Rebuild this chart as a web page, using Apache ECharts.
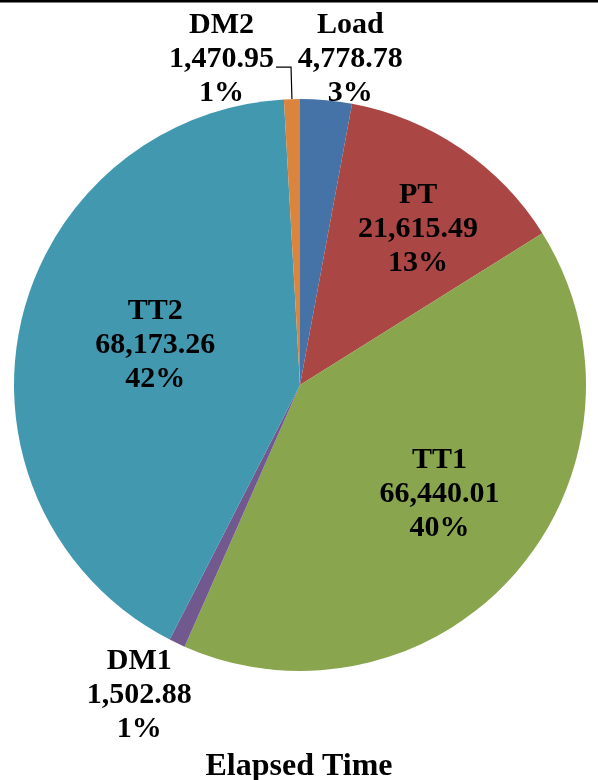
<!DOCTYPE html>
<html>
<head>
<meta charset="utf-8">
<script src="https://cdn.jsdelivr.net/npm/echarts@6/dist/echarts.min.js"></script>
<style>
  html, body { margin: 0; padding: 0; background: #ffffff; }
  #chart { width: 598px; height: 780px; }
</style>
</head>
<body>
<div id="chart"></div>
<script>
// ---- data ----
var categories = ['Load', 'PT', 'TT1', 'DM1', 'TT2', 'DM2'];
var values = [4778.78, 21615.49, 66440.01, 1502.88, 68173.26, 1470.95];
var chartTitle = 'Elapsed Time';

// ---- styles ----
var colors = ['#4572A7', '#AA4643', '#89A54E', '#71588F', '#4198AF', '#DB843D'];
// label nudges from the default inside position (style only)
var labelNudges = [[37, -180], [36, -35], [29, 14], [-98, 178], [-2, -10], null];

var chart = echarts.init(document.getElementById('chart'), null, { renderer: 'canvas' });

function fmtNum(v) {
  return v.toLocaleString('en-US', { minimumFractionDigits: 2, maximumFractionDigits: 2 });
}

// whole-number percentages that sum to 100 (largest remainder)
function wholePercents(vals) {
  var total = vals.reduce(function (a, b) { return a + b; }, 0);
  var raw = vals.map(function (v) { return v / total * 100; });
  var fl = raw.map(Math.floor);
  var left = 100 - fl.reduce(function (a, b) { return a + b; }, 0);
  var order = raw.map(function (r, i) { return i; })
    .sort(function (a, b) { return (raw[b] - fl[b]) - (raw[a] - fl[a]); });
  for (var k = 0; k < left; k++) fl[order[k]] += 1;
  return fl;
}
var pcts = wholePercents(values);

var pieData = categories.map(function (c, i) {
  var item = { name: c, value: values[i], itemStyle: { color: colors[i] } };
  if (c === 'DM2') {
    item.label = { position: 'outside', distanceToLabelLine: 2, padding: [0, 0, 16, 0] };
    item.labelLine = { show: true, length: 32, length2: 15, smooth: false,
      lineStyle: { color: '#000000', width: 1.2 } };
  }
  return item;
});

var txt = {
  fontFamily: 'Liberation Serif',
  fontWeight: 'bold',
  fontSize: 30,
  lineHeight: 34,
  color: '#000000',
  align: 'center'
};

chart.setOption({
  animation: false,
  backgroundColor: '#ffffff',
  title: {
    text: chartTitle,
    left: 'center',
    top: 744,
    textStyle: {
      fontFamily: 'Liberation Serif',
      fontWeight: 'bold',
      fontSize: 32,
      lineHeight: 36,
      color: '#000000'
    }
  },
  graphic: [{
    type: 'rect',
    shape: { x: 0, y: 0, width: 598, height: 2.5 },
    style: { fill: '#000000' },
    silent: true
  }],
  series: [{
    type: 'pie',
    center: [300, 385],
    radius: [0, 286],
    startAngle: 90,
    clockwise: true,
    avoidLabelOverlap: false,
    itemStyle: { borderWidth: 0 },
    label: {
      show: true,
      position: 'inside',
      fontFamily: txt.fontFamily,
      fontWeight: txt.fontWeight,
      fontSize: txt.fontSize,
      lineHeight: txt.lineHeight,
      color: txt.color,
      rich: { a: txt },
      formatter: function (p) {
        return '{a|' + p.name + '}\n{a|' + fmtNum(p.value) + '}\n{a|' + pcts[p.dataIndex] + '%}';
      }
    },
    labelLine: { show: false },
    labelLayout: function (p) {
      var n = labelNudges[p.dataIndex];
      if (!n) return {};
      return { dx: n[0], dy: n[1] };
    },
    emphasis: { disabled: true },
    data: pieData
  }]
});
</script>
</body>
</html>
